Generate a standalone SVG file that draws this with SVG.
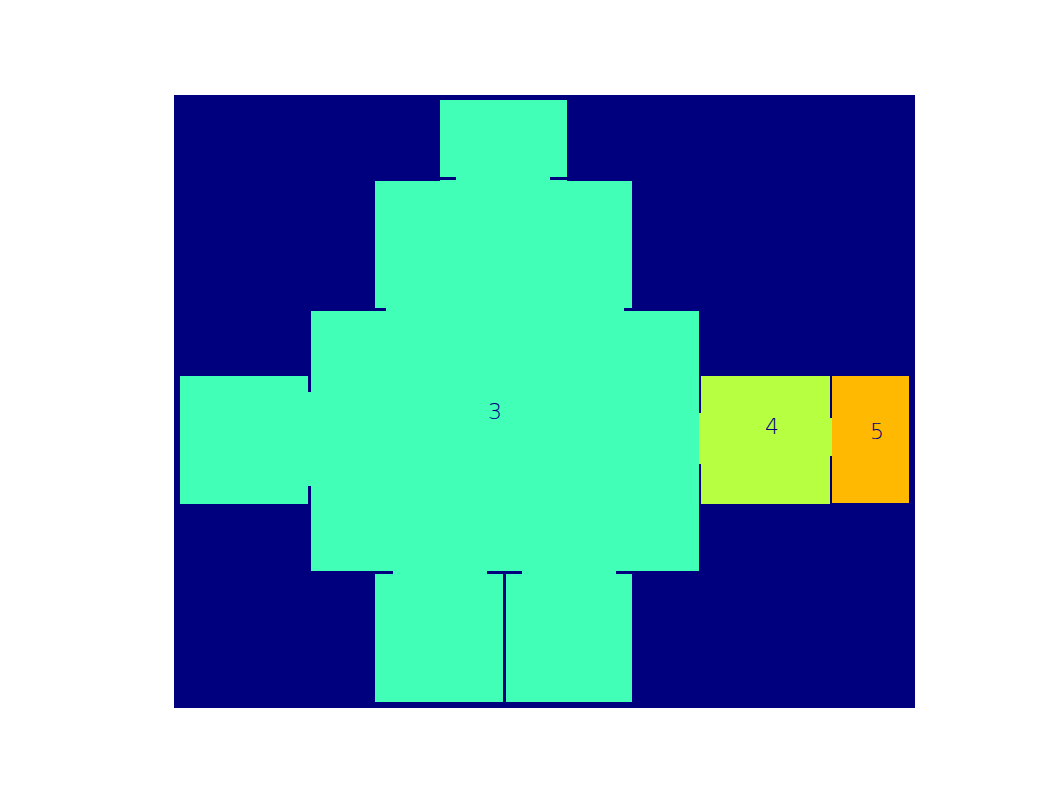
<svg xmlns="http://www.w3.org/2000/svg" width="1062" height="796" viewBox="0 0 1062 796">
<style>
.bg{fill:#00007f}
.g{fill:#41ffb6}
.y{fill:#b6ff41}
.o{fill:#ffb900}
.gap{fill:#00007f}
.lbl{font-family:"DejaVu Sans","Liberation Sans",sans-serif;font-size:22px;font-weight:200;fill:#00007f;text-anchor:middle}
</style>
<rect x="0" y="0" width="1062" height="796" fill="#ffffff"/>
<rect class="bg" x="174" y="95" width="741" height="613"/>
<g id="region3">
<rect id="r3-top" class="g" x="440" y="100" width="127" height="81"/>
<rect id="r3-upper" class="g" x="375" y="181" width="257" height="130"/>
<rect id="r3-center" class="g" x="311" y="311" width="388" height="260"/>
<rect id="r3-left" class="g" x="180" y="376" width="131" height="128"/>
<rect id="r3-bottom-left" class="g" x="375" y="571" width="128" height="131"/>
<rect id="r3-bottom-right" class="g" x="506" y="571" width="126" height="131"/>
</g>
<g id="region4">
<rect class="y" x="701" y="376" width="129" height="128"/>
<rect class="y" x="699" y="413" width="2" height="51"/>
<rect class="y" x="830" y="418" width="2" height="38"/>
</g>
<g id="region5">
<rect class="o" x="832" y="376" width="77" height="127"/>
</g>
<g id="connectors">
<rect class="gap" x="437" y="177" width="19" height="3"/>
<rect class="gap" x="550" y="177" width="20" height="3"/>
<rect class="gap" x="375" y="308" width="11" height="3"/>
<rect class="gap" x="624" y="308" width="11" height="3"/>
<rect class="gap" x="308" y="376" width="3" height="16"/>
<rect class="gap" x="308" y="486" width="3" height="18"/>
<rect class="gap" x="375" y="571" width="18" height="3"/>
<rect class="gap" x="487" y="571" width="35" height="3"/>
<rect class="gap" x="616" y="571" width="16" height="3"/>
</g>
<text class="lbl" x="495" y="419">3</text>
<text class="lbl" x="772" y="434">4</text>
<text class="lbl" x="877" y="439">5</text>
</svg>
